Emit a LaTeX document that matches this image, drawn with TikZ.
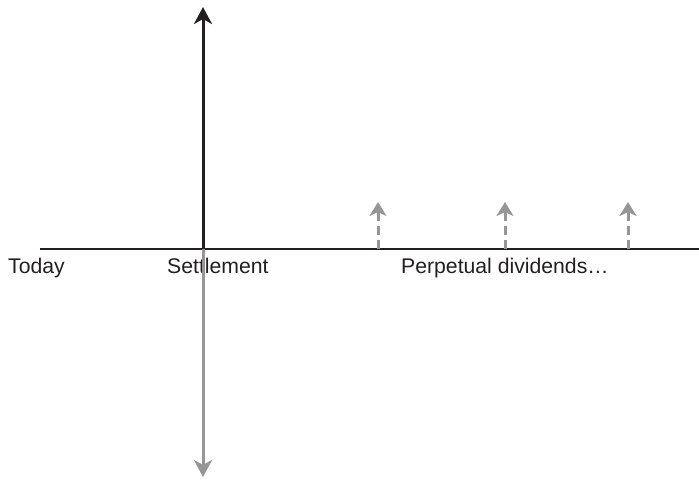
\documentclass[tikz,border=0pt]{standalone}
\usepackage{fontspec}
\setmainfont{Liberation Sans}
\usetikzlibrary{arrows.meta, positioning}
\definecolor{mydark}{RGB}{35,31,32}
\definecolor{mygray}{RGB}{150,150,150}
\tikzset{
  axisline/.style={line width=2pt, color=mydark},
  cashup/.style={-{Stealth[length=17pt, width=18pt, inset=5pt]}, line width=3pt, color=mydark},
  cashdown/.style={-{Stealth[length=17pt, width=18pt, inset=5pt]}, line width=3pt, color=mygray},
  divarrow/.style={-{Stealth[length=14pt, width=17pt, inset=4pt]}, line width=3pt, color=mygray, dash pattern=on 9pt off 5pt},
  lbl/.style={font=\fontsize{21.2}{24}\selectfont, color=mydark, inner sep=0pt, anchor=base west}
}
\begin{document}
\begin{tikzpicture}[x=1pt, y=-1pt]
  \useasboundingbox (0,0) rectangle (699,480);

  % Time line
  \coordinate (tl0) at (40,249);
  \coordinate (tl1) at (699,249);
  \draw[axisline] (tl0) -- (tl1);

  % Labels
  \node[lbl] (today) at (8,273) {Today};
  \node[lbl] (settle) at (167,273) {Settlement};
  \node[lbl] (perp) at (401,273) {Perpetual dividends…};

  % Settlement cash flows
  \coordinate (s0) at (203,249);
  \coordinate (sup) at (203,7);
  \coordinate (sdown) at (203,477);
  \draw[cashdown] (s0) -- (sdown);
  \draw[cashup] (s0) -- (sup);

  % Dividends
  \coordinate (d1) at (378,249);
  \coordinate (d2) at (505,249);
  \coordinate (d3) at (628,249);
  \coordinate (d1t) at (378,202);
  \coordinate (d2t) at (505,202);
  \coordinate (d3t) at (628,202);
  \draw[divarrow] (d1) -- (d1t);
  \draw[divarrow] (d2) -- (d2t);
  \draw[divarrow] (d3) -- (d3t);
\end{tikzpicture}
\end{document}
